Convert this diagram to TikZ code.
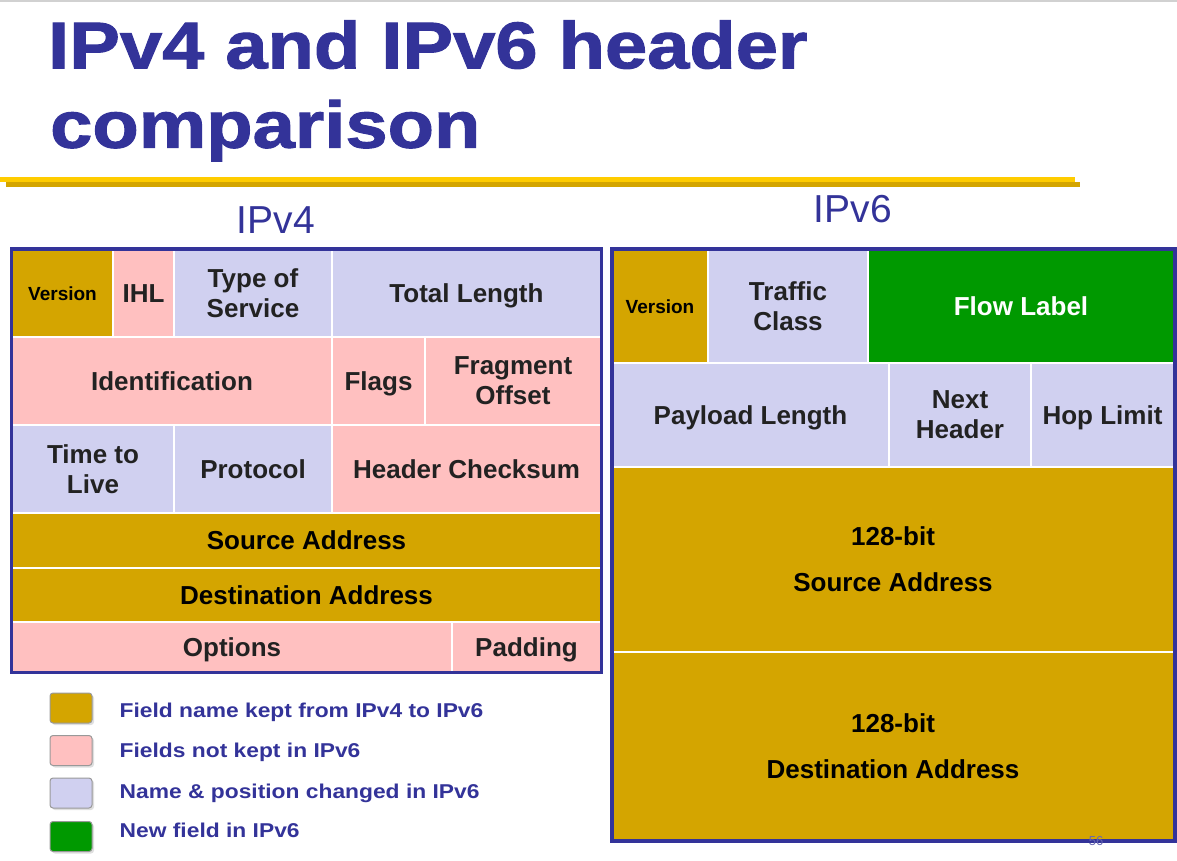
\documentclass[tikz,border=0pt]{standalone}
\usepackage{fontspec}
\setmainfont{Liberation Sans}
\newfontfamily\widefamily{Liberation Sans}[FakeStretch=1.15, BoldFeatures={FakeBold=1.6}]
\newfontfamily\legendfamily{Liberation Sans}[FakeStretch=1.14]
\usetikzlibrary{shadows}

\definecolor{navy}{RGB}{51,51,153}
\definecolor{keptgold}{RGB}{212,165,0}
\definecolor{droppink}{RGB}{255,192,192}
\definecolor{movedlav}{RGB}{208,208,240}
\definecolor{newgreen}{RGB}{0,153,0}
\definecolor{cellink}{RGB}{34,34,34}
\definecolor{barlight}{RGB}{255,204,0}
\definecolor{bardark}{RGB}{212,165,0}

\newcommand\cellfont{\bfseries\fontsize{26}{30}\selectfont}
\newcommand\smallcellfont{\bfseries\fontsize{19}{22}\selectfont}
\newcommand\addrfont{\bfseries\fontsize{26}{46}\selectfont}

\tikzset{
  fld/.style={inner sep=0pt, outer sep=0pt, align=center, font=\cellfont, text=cellink},
  oneline/.style={text depth=0pt},
  kept/.style={fill=keptgold, text=black},
  dropped/.style={fill=droppink},
  moved/.style={fill=movedlav},
  added/.style={fill=newgreen, text=white},
  frame/.style={draw=navy, line width=3.6pt},
  legbox/.style={draw=black!40, line width=1pt, rounded corners=3pt,
    minimum width=42pt, minimum height=30pt, inner sep=0pt,
    drop shadow={shadow xshift=2pt, shadow yshift=-2pt, opacity=0.25}},
  legtext/.style={anchor=base west, inner sep=0pt, text=navy,
    font=\legendfamily\bfseries\fontsize{20}{24}\selectfont},
  version/.style={font=\smallcellfont},
  titletext/.style={anchor=base west, inner sep=0pt, text=navy,
    font=\widefamily\bfseries\fontsize{66}{80}\selectfont},
}

% \field{name}{x1}{y1}{x2}{y2}{styles}{text}
\newcommand\field[7]{%
  \node[fld, #6, minimum width={(#4)-(#2)}, minimum height={(#5)-(#3)}]
    (#1) at ({((#2)+(#4))/2},{((#3)+(#5))/2}) {#7};}

\begin{document}
\begin{tikzpicture}[x=1pt,y=-1pt]
\useasboundingbox (0,0) rectangle (1177,860);

% thin rule at the very top
\fill[black!18] (0,0) rectangle (1177,2);

% title
\node[titletext] (title1) at (48,68.3) {IPv4 and IPv6 header};
\node[titletext] (title2) at (50,147.7) {comparison};

% underline bar with its shadow
\fill[bardark] (6,182) rectangle (1080,187);
\fill[barlight] (0,177) rectangle (1075,181.8);

% column headings
\node[anchor=base, inner sep=0pt, text=navy, font=\fontsize{39}{44}\selectfont] (v4label) at (276,233) {IPv4};
\node[anchor=base, inner sep=0pt, text=navy, font=\fontsize{39}{44}\selectfont] (v6label) at (853,222.3) {IPv6};

% ---------------- IPv4 header ----------------
\field{v4ver}{13}{251}{112}{336}{kept, version, oneline}{Version}
\field{v4ihl}{114}{251}{173}{336}{dropped, oneline}{IHL}
\field{v4tos}{175}{251}{331}{336}{moved}{Type of\\Service}
\field{v4len}{333}{251}{600}{336}{moved, oneline}{Total Length}

\field{v4id}{13}{338}{331}{424}{dropped, oneline}{Identification}
\field{v4flags}{333}{338}{424}{424}{dropped, oneline}{Flags}
\field{v4frag}{426}{338}{600}{424}{dropped}{Fragment\\Offset}

\field{v4ttl}{13}{426}{173}{512}{moved}{Time to\\Live}
\field{v4proto}{175}{426}{331}{512}{moved, oneline}{Protocol}
\field{v4csum}{333}{426}{600}{512}{dropped, oneline}{Header Checksum}

\field{v4src}{13}{514}{600}{567}{kept, oneline}{Source Address}
\field{v4dst}{13}{569}{600}{621}{kept, oneline}{Destination Address}

\field{v4opt}{13}{623}{451}{670.5}{dropped, oneline}{Options}
\field{v4pad}{453}{623}{600}{670.5}{dropped, oneline}{Padding}

\draw[frame] (11.5,249) rectangle (601.5,672.5);

% ---------------- IPv6 header ----------------
\field{v6ver}{613}{251}{707}{362}{kept, version, oneline}{Version}
\field{v6tc}{709}{251}{867}{362}{moved}{Traffic\\Class}
\field{v6flow}{869}{251}{1173}{362}{added, oneline}{Flow Label}

\field{v6plen}{613}{364}{888}{466}{moved, oneline}{Payload Length}
\field{v6next}{890}{364}{1030}{466}{moved}{Next\\Header}
\field{v6hop}{1032}{364}{1173}{466}{moved, oneline}{Hop Limit}

\field{v6src}{613}{468}{1173}{651}{kept, font=\addrfont}{128-bit\\Source Address}
\field{v6dst}{613}{653}{1173}{839}{kept, font=\addrfont}{128-bit\\Destination Address}

\draw[frame] (612,249) rectangle (1175,841);

% slide number
\node[inner sep=0pt, text=navy!75, font=\fontsize{13}{15}\selectfont] (pagenum) at (1096,841) {56};

% ---------------- legend ----------------
\node[legbox, fill=keptgold] (leg1) at (71,708) {};
\node[legbox, fill=droppink] (leg2) at (71,750.5) {};
\node[legbox, fill=movedlav] (leg3) at (71,793) {};
\node[legbox, fill=newgreen] (leg4) at (71,836.5) {};

\node[legtext] (legtext1) at (119.5,717.7) {Field name kept from IPv4 to IPv6};
\node[legtext] (legtext2) at (119.5,757.7) {Fields not kept in IPv6};
\node[legtext] (legtext3) at (119.5,798) {Name \& position changed in IPv6};
\node[legtext] (legtext4) at (119.5,837.7) {New field in IPv6};
\end{tikzpicture}
\end{document}
